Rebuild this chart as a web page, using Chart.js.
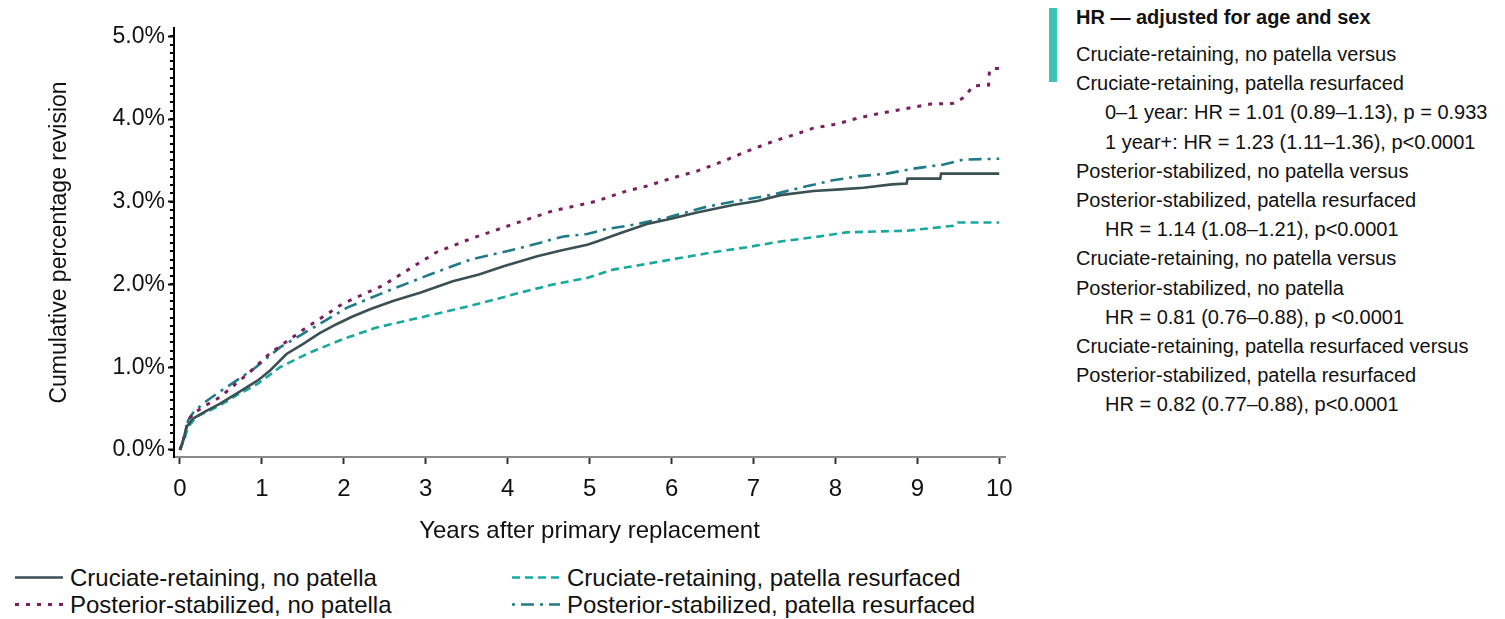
<!DOCTYPE html>
<html>
<head>
<meta charset="utf-8">
<script src="https://cdn.jsdelivr.net/npm/chart.js@4"></script>
<style>
  body { margin: 0; background: #fff; width: 1505px; height: 619px; overflow: hidden; position: relative;
         font-family: Arial, "Liberation Sans", sans-serif; color: #111; }
  #chart { position: absolute; left: 0; top: 0; }
  .leg { position: absolute; font-size: 24px; line-height: 27px; white-space: nowrap; }
  .leg svg { position: absolute; left: 0; top: 0; }
  .leg span { position: absolute; top: 0; }
  #hrBar { position: absolute; left: 1049px; top: 8px; width: 8px; height: 74px; background: #3cc3b7; }
  #hrBox { position: absolute; left: 1076px; top: 2px; font-size: 20px; line-height: 29.2px; white-space: nowrap; }
  #hrBox .ttl { font-weight: bold; line-height: 30px; margin-bottom: 8px; }
  #hrBox .ind { padding-left: 29px; }
</style>
</head>
<body>
<canvas id="chart" width="1040" height="560"></canvas>
<div id="legend"></div>
<div id="hrBar"></div>
<div id="hrBox"></div>
<script>
const FONT = 'Arial, "Liberation Sans", sans-serif';

const seriesLabels = [
  "Cruciate-retaining, no patella",
  "Cruciate-retaining, patella resurfaced",
  "Posterior-stabilized, no patella",
  "Posterior-stabilized, patella resurfaced",
];
const seriesColors = ["#3a5053", "#17a89e", "#7a1f5e", "#1f7b89"];
const seriesDash = [[], [8, 5], [4, 7], [13, 6, 3, 6]];
const seriesWidth = [2.6, 2.6, 3, 2.6];

// years after primary replacement / cumulative % revision
const crNoPatYears = [0, 0.04, 0.08, 0.16, 0.3, 0.49, 0.69, 0.95, 1.1, 1.3, 1.5, 1.7, 1.91, 2.1, 2.32, 2.6, 2.93,
  3.33, 3.65, 3.95, 4.36, 4.65, 4.97, 5.09, 5.37, 5.7, 6.02, 6.31, 6.75, 7.05, 7.33, 7.73, 8.06, 8.34, 8.69,
  8.87, 8.88, 9.28, 9.29, 10];
const crNoPatPct = [0, 0.12, 0.28, 0.38, 0.46, 0.56, 0.68, 0.84, 0.96, 1.16, 1.28, 1.41, 1.52, 1.61, 1.7, 1.8, 1.9,
  2.04, 2.12, 2.22, 2.34, 2.41, 2.48, 2.52, 2.62, 2.73, 2.8, 2.87, 2.96, 3.01, 3.08, 3.13, 3.15, 3.17, 3.21,
  3.22, 3.28, 3.28, 3.34, 3.34];

const crPatYears = [0, 0.05, 0.1, 0.2, 0.49, 0.69, 0.95, 1.22, 1.59, 1.99, 2.4, 2.93, 3.54, 4.15, 4.55, 4.97,
  5.29, 5.7, 6.1, 6.51, 6.92, 7.33, 7.73, 8.14, 8.87, 9.44, 9.49, 10];
const crPatPct = [0, 0.12, 0.28, 0.4, 0.54, 0.66, 0.8, 1.0, 1.18, 1.34, 1.48, 1.6, 1.74, 1.9, 2.0, 2.08,
  2.18, 2.25, 2.32, 2.39, 2.45, 2.52, 2.57, 2.63, 2.65, 2.71, 2.75, 2.75];

const psNoPatYears = [0, 0.05, 0.1, 0.16, 0.3, 0.49, 0.85, 1.1, 1.5, 1.99, 2.48, 3.13, 3.54, 4.07, 4.55, 4.97,
  5.09, 5.45, 5.7, 6.02, 6.31, 6.63, 6.92, 7.24, 7.53, 7.73, 8.02, 8.27, 8.55, 8.83, 9.16, 9.44, 9.55, 9.61,
  9.68, 9.87, 9.88, 9.92, 10];
const psNoPatPct = [0, 0.15, 0.36, 0.44, 0.53, 0.64, 0.94, 1.17, 1.45, 1.77, 1.99, 2.39, 2.55, 2.73, 2.89, 2.98,
  3.01, 3.13, 3.19, 3.29, 3.37, 3.49, 3.61, 3.73, 3.82, 3.89, 3.94, 4.01, 4.07, 4.12, 4.18, 4.19, 4.25, 4.31,
  4.4, 4.41, 4.58, 4.61, 4.61];

const psPatYears = [0, 0.05, 0.1, 0.16, 0.28, 0.45, 0.9, 1.22, 1.63, 2.04, 2.53, 3.05, 3.54, 4.15, 4.68, 4.97,
  5.21, 5.58, 5.95, 6.43, 6.8, 7.2, 7.66, 7.97, 8.3, 8.63, 8.95, 9.32, 9.56, 10];
const psPatPct = [0, 0.15, 0.36, 0.45, 0.56, 0.68, 0.98, 1.24, 1.48, 1.72, 1.92, 2.12, 2.3, 2.44, 2.58, 2.61,
  2.67, 2.73, 2.81, 2.94, 3.01, 3.08, 3.19, 3.26, 3.31, 3.34, 3.4, 3.45, 3.51, 3.52];

const xTicks = [0, 1, 2, 3, 4, 5, 6, 7, 8, 9, 10];
const yTicks = [0, 1, 2, 3, 4, 5];
const yMinorStep = 0.1;

const xTitle = "Years after primary replacement";
const yTitle = "Cumulative percentage revision";

const hrTitle = "HR \u2014 adjusted for age and sex";
const hrLines = [
  ["Cruciate-retaining, no patella versus", 0],
  ["Cruciate-retaining, patella resurfaced", 0],
  ["0\u20131 year: HR = 1.01 (0.89\u20131.13), p = 0.933", 1],
  ["1 year+: HR = 1.23 (1.11\u20131.36), p<0.0001", 1],
  ["Posterior-stabilized, no patella versus", 0],
  ["Posterior-stabilized, patella resurfaced", 0],
  ["HR = 1.14 (1.08\u20131.21), p<0.0001", 1],
  ["Cruciate-retaining, no patella versus", 0],
  ["Posterior-stabilized, no patella", 0],
  ["HR = 0.81 (0.76\u20130.88), p <0.0001", 1],
  ["Cruciate-retaining, patella resurfaced versus", 0],
  ["Posterior-stabilized, patella resurfaced", 0],
  ["HR = 0.82 (0.77\u20130.88), p<0.0001", 1],
];

const toPoints = (xs, ys) => xs.map((x, i) => ({ x, y: ys[i] }));
const seriesData = [
  toPoints(crNoPatYears, crNoPatPct),
  toPoints(crPatYears, crPatPct),
  toPoints(psNoPatYears, psNoPatPct),
  toPoints(psPatYears, psPatPct),
];
// draw order: dashed/dotted first, solid on top
const drawOrder = [3, 1, 2, 0];

const minorTicks = {
  id: "minorTicks",
  afterDraw(chart) {
    const y = chart.scales.y;
    const ctx = chart.ctx;
    ctx.save();
    ctx.fillStyle = "#000";
    for (let v = 0; v <= 5.0001; v += yMinorStep) {
      const py = Math.round(y.getPixelForValue(v));
      ctx.fillRect(y.right - 4, py - 1, 3, 2);
    }
    ctx.restore();
  },
};

new Chart(document.getElementById("chart"), {
  type: "line",
  data: {
    datasets: drawOrder.map((i) => ({
      label: seriesLabels[i],
      data: seriesData[i],
      borderColor: seriesColors[i],
      borderDash: seriesDash[i],
      borderWidth: seriesWidth[i],
      borderCapStyle: "butt",
      pointRadius: 0,
      tension: 0,
      fill: false,
      order: drawOrder.length - drawOrder.indexOf(i),
    })),
  },
  options: {
    responsive: false,
    animation: false,
    devicePixelRatio: 1,
    layout: { padding: { top: 28, right: 35, left: 0, bottom: 0 } },
    plugins: { legend: { display: false }, tooltip: { enabled: false } },
    scales: {
      x: {
        type: "linear",
        min: -0.073,
        max: 10.07,
        afterBuildTicks: (s) => { s.ticks = xTicks.map((v) => ({ value: v })); },
        afterFit: (s) => { s.height = 103; },
        border: { display: true, color: "#8a8a8a", width: 2 },
        grid: { drawOnChartArea: false, tickLength: 7, tickWidth: 2, tickColor: "#333" },
        ticks: { padding: 11, color: "#111", font: { size: 24, family: FONT }, maxRotation: 0, callback: (v) => v },
        title: { display: true, text: xTitle, color: "#111", font: { size: 24, family: FONT }, padding: { top: 0, bottom: 14 } },
      },
      y: {
        type: "linear",
        min: -0.085,
        max: 5.1,
        afterBuildTicks: (s) => { s.ticks = yTicks.map((v) => ({ value: v })); },
        afterFit: (s) => { s.width = 174; },
        border: { display: true, color: "#000", width: 2 },
        grid: { drawOnChartArea: false, tickLength: 6, tickWidth: 2, tickColor: "#000" },
        ticks: { padding: 3, color: "#111", font: { size: 23, family: FONT }, callback: (v) => v.toFixed(1) + "%" },
        title: { display: true, text: yTitle, color: "#111", font: { size: 23, family: FONT }, padding: { top: 46, bottom: 0 } },
      },
    },
  },
  plugins: [minorTicks],
});

// legend (two columns, line samples drawn as svg)
const legendPos = [[15, 577], [512, 577], [15, 604], [512, 604]];
const legendEl = document.getElementById("legend");
seriesLabels.forEach((label, i) => {
  const [lx, ly] = legendPos[i];
  const dash = seriesDash[i].length ? `stroke-dasharray="${seriesDash[i].join(" ")}"` : "";
  const offset = i === 3 ? 'stroke-dashoffset="19"' : "";
  legendEl.insertAdjacentHTML(
    "beforeend",
    `<div class="leg" style="left:${lx}px;top:${ly - 13.5}px">
       <svg width="48" height="27"><line x1="0" y1="13.5" x2="48" y2="13.5" stroke="${seriesColors[i]}"
         stroke-width="${seriesWidth[i]}" ${dash} ${offset}/></svg>
       <span style="left:55px">${label}</span>
     </div>`
  );
});

const hrBox = document.getElementById("hrBox");
hrBox.innerHTML =
  `<div class="ttl">${hrTitle}</div>` +
  hrLines.map(([t, ind]) => `<div class="${ind ? "ind" : ""}">${t.replace(/</g, "&lt;")}</div>`).join("");
</script>
</body>
</html>
